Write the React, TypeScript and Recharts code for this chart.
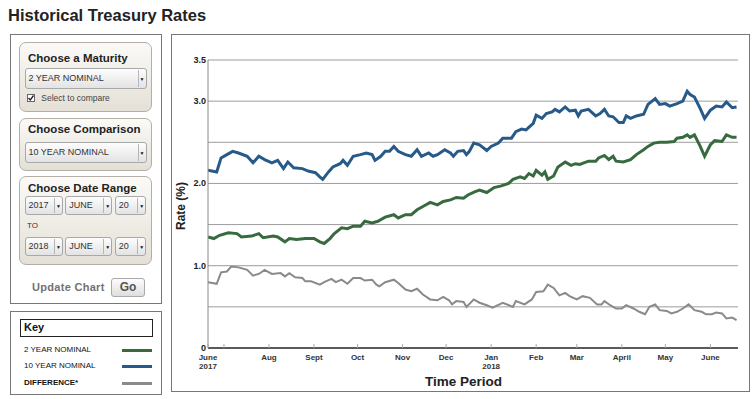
import React from "react";
import { LineChart, Line, XAxis, YAxis, CartesianGrid } from "recharts";

// days counted from June 20, 2017
const twoYearDays = [0, 4, 8, 14, 20, 23, 30, 35, 38, 45, 48, 53, 56, 61, 67, 73, 77, 80, 84, 87, 92, 96, 100, 105, 108, 113, 117, 122, 128, 131, 136, 140, 144, 148, 153, 158, 162, 167, 171, 176, 179, 184, 187, 192, 197, 202, 207, 210, 215, 218, 221, 224, 226, 230, 232, 234, 238, 241, 246, 250, 253, 256, 262, 267, 269, 273, 276, 279, 281, 286, 291, 295, 300, 303, 307, 311, 316, 321, 323, 327, 330, 332, 335, 339, 342, 346, 349, 354, 357, 361, 364];
const twoYearRates = [1.35, 1.33, 1.37, 1.4, 1.39, 1.35, 1.36, 1.39, 1.34, 1.36, 1.35, 1.29, 1.33, 1.32, 1.33, 1.33, 1.29, 1.27, 1.33, 1.39, 1.46, 1.45, 1.48, 1.48, 1.54, 1.52, 1.54, 1.59, 1.62, 1.58, 1.62, 1.62, 1.68, 1.72, 1.77, 1.74, 1.78, 1.8, 1.83, 1.82, 1.86, 1.9, 1.92, 1.89, 1.95, 1.97, 2.0, 2.05, 2.08, 2.06, 2.12, 2.09, 2.16, 2.1, 2.14, 2.05, 2.09, 2.2, 2.26, 2.22, 2.24, 2.23, 2.27, 2.27, 2.31, 2.34, 2.29, 2.33, 2.27, 2.26, 2.29, 2.35, 2.41, 2.45, 2.49, 2.5, 2.5, 2.51, 2.55, 2.56, 2.59, 2.56, 2.59, 2.45, 2.33, 2.47, 2.52, 2.51, 2.59, 2.56, 2.56];

const tenYearDays = [0, 6, 9, 13, 17, 21, 27, 31, 35, 39, 44, 48, 52, 55, 59, 65, 69, 74, 77, 79, 83, 86, 91, 93, 96, 100, 105, 109, 113, 115, 119, 122, 125, 128, 131, 136, 140, 144, 147, 152, 155, 158, 163, 167, 169, 172, 176, 178, 180, 183, 187, 192, 195, 200, 203, 209, 212, 216, 219, 224, 226, 230, 233, 237, 239, 242, 246, 249, 253, 255, 257, 262, 267, 270, 273, 276, 279, 283, 286, 288, 291, 295, 300, 303, 308, 311, 315, 318, 323, 327, 330, 332, 335, 339, 342, 346, 350, 354, 357, 361, 364];
const tenYearRates = [2.16, 2.14, 2.31, 2.35, 2.39, 2.37, 2.33, 2.25, 2.33, 2.29, 2.25, 2.28, 2.18, 2.26, 2.19, 2.18, 2.15, 2.13, 2.08, 2.05, 2.14, 2.2, 2.24, 2.28, 2.22, 2.33, 2.35, 2.37, 2.35, 2.28, 2.33, 2.39, 2.39, 2.45, 2.39, 2.35, 2.33, 2.41, 2.33, 2.37, 2.33, 2.35, 2.41, 2.37, 2.33, 2.39, 2.4, 2.35, 2.39, 2.49, 2.47, 2.4, 2.45, 2.49, 2.55, 2.55, 2.63, 2.66, 2.65, 2.73, 2.83, 2.79, 2.85, 2.87, 2.9, 2.87, 2.93, 2.88, 2.89, 2.82, 2.88, 2.9, 2.82, 2.85, 2.9, 2.82, 2.81, 2.74, 2.74, 2.82, 2.79, 2.82, 2.84, 2.96, 3.03, 2.96, 2.97, 2.94, 2.97, 3.0, 3.12, 3.08, 3.05, 2.91, 2.79, 2.89, 2.94, 2.93, 2.99, 2.92, 2.93];

const diffDays = [0, 6, 9, 13, 16, 21, 27, 31, 35, 39, 44, 50, 53, 56, 60, 65, 67, 71, 77, 80, 85, 88, 92, 96, 100, 105, 108, 113, 116, 118, 122, 128, 131, 136, 140, 144, 148, 153, 158, 162, 166, 168, 171, 176, 178, 183, 187, 192, 196, 203, 210, 212, 218, 223, 226, 231, 234, 238, 242, 246, 249, 254, 258, 263, 268, 271, 273, 277, 281, 285, 288, 293, 297, 301, 304, 308, 311, 316, 319, 323, 327, 331, 335, 340, 343, 347, 350, 354, 357, 361, 364];
const diffRates = [0.8, 0.78, 0.92, 0.93, 0.99, 0.98, 0.95, 0.88, 0.9, 0.95, 0.9, 0.91, 0.87, 0.91, 0.86, 0.85, 0.81, 0.81, 0.77, 0.8, 0.84, 0.8, 0.83, 0.78, 0.85, 0.85, 0.82, 0.83, 0.77, 0.75, 0.8, 0.83, 0.79, 0.71, 0.69, 0.72, 0.65, 0.59, 0.58, 0.62, 0.58, 0.53, 0.57, 0.56, 0.5, 0.59, 0.55, 0.52, 0.49, 0.55, 0.5, 0.57, 0.53, 0.59, 0.68, 0.69, 0.77, 0.73, 0.64, 0.67, 0.63, 0.59, 0.63, 0.61, 0.53, 0.53, 0.57, 0.52, 0.48, 0.48, 0.52, 0.48, 0.44, 0.41, 0.5, 0.53, 0.46, 0.45, 0.42, 0.44, 0.48, 0.53, 0.46, 0.44, 0.41, 0.41, 0.43, 0.42, 0.36, 0.37, 0.34];

const monthTicks = [0, 11, 42, 73, 103, 134, 164, 195, 226, 254, 285, 315, 346];
const monthLabels = ["June", "", "Aug", "Sept", "Oct", "Nov", "Dec", "Jan", "Feb", "Mar", "April", "May", "June"];
const yearLabels = ["2017", "", "", "", "", "", "", "2018", "", "", "", "", ""];

const rateTicks = [0, 0.5, 1, 1.5, 2, 2.5, 3, 3.5];
const rateLabels = ["0", "", "1.0", "", "2.0", "", "3.0", "3.5"];

const GREEN = "#386a40";
const BLUE = "#285a89";
const GRAY = "#8a8a8a";
const FONT = 'Arial, "Liberation Sans", sans-serif';

const twoYear = twoYearDays.map((d, i) => ({ day: d, rate: twoYearRates[i] }));
const tenYear = tenYearDays.map((d, i) => ({ day: d, rate: tenYearRates[i] }));
const difference = diffDays.map((d, i) => ({ day: d, rate: diffRates[i] }));

const MonthTick = (props: any) => {
  const { x, y, payload } = props;
  const i = monthTicks.indexOf(payload.value);
  return (
    <g>
      <line x1={x} x2={x} y1={y - 4} y2={y} stroke="#aaa" />
      <text x={x} y={y + 12} textAnchor="middle" fontSize={8} fontWeight="bold" fill="#333" fontFamily={FONT}>
        {monthLabels[i]}
      </text>
      {yearLabels[i] && (
        <text x={x} y={y + 21} textAnchor="middle" fontSize={8} fontWeight="bold" fill="#333" fontFamily={FONT}>
          {yearLabels[i]}
        </text>
      )}
    </g>
  );
};

const RateTick = (props: any) => {
  const { x, y, payload } = props;
  const label = rateLabels[rateTicks.indexOf(payload.value)];
  if (!label) return null;
  return (
    <text x={x} y={y + 3} textAnchor="end" fontSize={9} fontWeight="bold" fill="#222" fontFamily={FONT}>
      {label}
    </text>
  );
};

// text placed by the vertical center of its caps
const Txt = ({ x, y, size, bold, color, children, spacing }: any) => (
  <div
    style={{
      position: "absolute",
      left: x,
      top: y - size / 2,
      fontSize: size,
      lineHeight: `${size}px`,
      fontWeight: bold ? "bold" : "normal",
      color: color || "#222",
      letterSpacing: spacing || 0,
      whiteSpace: "nowrap",
    }}
  >
    {children}
  </div>
);

const Group = ({ top, height }: any) => (
  <div
    style={{
      position: "absolute",
      left: 19,
      top,
      width: 131,
      height,
      border: "1px solid #b3afa6",
      borderRadius: 7,
      background: "linear-gradient(#fbfaf7, #e4e0d6)",
    }}
  />
);

const Select = ({ x, y, w, h, text }: any) => (
  <div
    style={{
      position: "absolute",
      left: x,
      top: y,
      width: w,
      height: h,
      boxSizing: "border-box",
      border: "1px solid #a8a8a8",
      borderRadius: 3,
      background: "linear-gradient(#fdfdfd, #e3e3e3)",
    }}
  >
    <div style={{ position: "absolute", left: 3, top: 0, lineHeight: `${h - 2}px`, fontSize: 9, color: "#333" }}>{text}</div>
    <div style={{ position: "absolute", right: 7, top: 1, bottom: 1, borderLeft: "1px solid #b5b5b5" }} />
    <div style={{ position: "absolute", right: 1, top: 0, lineHeight: `${h - 1}px`, fontSize: 5, color: "#111" }}>▼</div>
  </div>
);

const Swatch = ({ y, color, h }: any) => (
  <div style={{ position: "absolute", left: 122, top: y - h / 2, width: 30, height: h, background: color }} />
);

export default function App() {
  return (
    <div
      style={{
        position: "absolute",
        left: 0,
        top: 0,
        width: 756,
        height: 399,
        background: "#fff",
        fontFamily: FONT,
        overflow: "hidden",
      }}
    >
      <Txt x={8} y={15.5} size={16.5} bold color="#222">Historical Treasury Rates</Txt>

      {/* controls panel */}
      <div style={{ position: "absolute", left: 10, top: 34, width: 150, height: 268, border: "1px solid #777" }} />
      <Group top={42} height={68} />
      <Txt x={28} y={58.3} size={11.5} bold>Choose a Maturity</Txt>
      <Select x={24.5} y={67.5} w={122} h={21} text="2 YEAR NOMINAL" />
      <div style={{ position: "absolute", left: 27, top: 94, width: 6, height: 6, border: "1px solid #666", background: "#fff" }} />
      <svg style={{ position: "absolute", left: 27, top: 94 }} width={8} height={8}>
        <polyline points="1.5,4 3.3,6 6.5,1.5" fill="none" stroke="#222" strokeWidth={1.3} />
      </svg>
      <Txt x={41.3} y={98} size={8.5} color="#444">Select to compare</Txt>

      <Group top={118} height={51} />
      <Txt x={28} y={129.7} size={11.5} bold>Choose Comparison</Txt>
      <Select x={24.5} y={142} w={122} h={21} text="10 YEAR NOMINAL" />

      <Group top={176} height={87} />
      <Txt x={28} y={188.3} size={11.5} bold>Choose Date Range</Txt>
      <Select x={24.5} y={196} w={38.5} h={19} text="2017" />
      <Select x={65.3} y={196} w={47} h={19} text="JUNE" />
      <Select x={114.7} y={196} w={31.6} h={19} text="20" />
      <Txt x={27} y={225.7} size={8} color="#333">TO</Txt>
      <Select x={24.5} y={237} w={38.5} h={19} text="2018" />
      <Select x={65.3} y={237} w={47} h={19} text="JUNE" />
      <Select x={114.7} y={237} w={31.6} h={19} text="20" />

      <Txt x={32} y={287.3} size={11} bold color="#727272" spacing={0.3}>Update Chart</Txt>
      <div
        style={{
          position: "absolute",
          left: 111,
          top: 278,
          width: 34,
          height: 19,
          boxSizing: "border-box",
          border: "1px solid #aaa",
          borderRadius: 3,
          background: "linear-gradient(#fdfdfd, #dedede)",
          textAlign: "center",
          lineHeight: "17px",
          fontSize: 12,
          fontWeight: "bold",
          color: "#555",
        }}
      >
        Go
      </div>

      {/* key panel */}
      <div style={{ position: "absolute", left: 10, top: 311, width: 150, height: 82, border: "1px solid #777" }} />
      <div style={{ position: "absolute", left: 20, top: 319, width: 131, height: 16, border: "1px solid #222" }} />
      <Txt x={24} y={327.5} size={11} bold color="#111">Key</Txt>
      <Txt x={24} y={350} size={8} color="#111">2 YEAR NOMINAL</Txt>
      <Swatch y={350.5} color={GREEN} h={3} />
      <Txt x={24} y={366} size={8} color="#111">10 YEAR NOMINAL</Txt>
      <Swatch y={366.5} color={BLUE} h={3} />
      <Txt x={24} y={383.3} size={8} bold color="#111">DIFFERENCE*</Txt>
      <Swatch y={383.5} color={GRAY} h={2.5} />

      {/* chart panel */}
      <div style={{ position: "absolute", left: 171, top: 34, width: 577, height: 356, border: "1px solid #777" }} />
      <div style={{ position: "absolute", left: 172, top: 36 }}>
        <LineChart width={576} height={356} margin={{ top: 24, right: 10, left: 0, bottom: 0 }}>
          <CartesianGrid vertical={false} stroke="#9c9c9c" />
          <XAxis
            type="number"
            dataKey="day"
            domain={[0, 365]}
            ticks={monthTicks}
            tick={<MonthTick />}
            tickLine={false}
            tickSize={0}
            tickMargin={0}
            height={44}
            interval={0}
            allowDataOverflow
            axisLine={{ stroke: "#333", strokeWidth: 1.5 }}
          />
          <YAxis
            type="number"
            domain={[0, 3.5]}
            ticks={rateTicks}
            tick={<RateTick />}
            tickLine={false}
            tickSize={0}
            tickMargin={2}
            width={36}
            interval={0}
            axisLine={{ stroke: "#888" }}
          />
          <Line data={twoYear} dataKey="rate" type="linear" stroke={GREEN} strokeWidth={3} dot={false} isAnimationActive={false} />
          <Line data={tenYear} dataKey="rate" type="linear" stroke={BLUE} strokeWidth={3} dot={false} isAnimationActive={false} />
          <Line data={difference} dataKey="rate" type="linear" stroke={GRAY} strokeWidth={2} dot={false} isAnimationActive={false} />
        </LineChart>
      </div>
      <div
        style={{
          position: "absolute",
          left: 151,
          top: 199,
          width: 60,
          height: 14,
          lineHeight: "14px",
          textAlign: "center",
          transform: "rotate(-90deg)",
          fontSize: 12,
          fontWeight: "bold",
          color: "#222",
        }}
      >
        Rate (%)
      </div>
      <Txt x={425} y={382} size={13.5} bold color="#222">Time Period</Txt>
    </div>
  );
}
